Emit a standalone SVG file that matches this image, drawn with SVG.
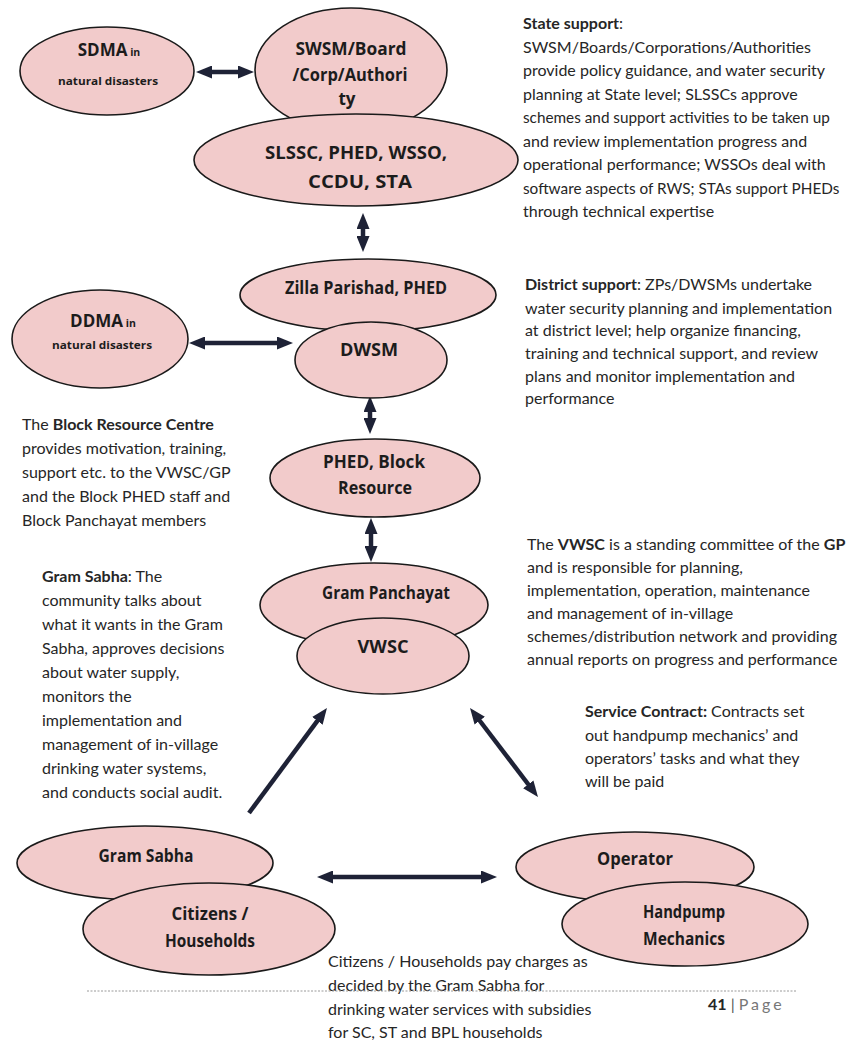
<svg xmlns="http://www.w3.org/2000/svg" width="849" height="1042" viewBox="0 0 849 1042">
<style>
.node ellipse{fill:#f2cbcb;stroke:#1a1a1a;stroke-width:1.6}
.lbl{font-family:"Comic Sans MS","Open Sans",sans-serif;font-weight:700;fill:#1c1c1c;text-anchor:middle;font-size:17px}
.sm{font-size:10.5px}
.para{font-family:Lato,"Liberation Sans",sans-serif;font-size:16px;fill:#262626}
.para.tight{font-size:15.3px}
.b{font-weight:700}
.conn{stroke:#1e2236;stroke-width:4.5;fill:none}
</style>
<defs>
<marker id="ah" viewBox="0 0 16 13" refX="4" refY="6.5" markerWidth="16" markerHeight="13" markerUnits="userSpaceOnUse" orient="auto-start-reverse">
<path d="M0,0 L16,6.5 L0,13 z" fill="#1e2236"/>
</marker>
</defs>
<rect width="849" height="1042" fill="#ffffff"/>

<g id="connectors">
<line class="conn" x1="208" y1="72" x2="242" y2="72" marker-start="url(#ah)" marker-end="url(#ah)"/>
<line class="conn" x1="363" y1="225" x2="363" y2="240" marker-start="url(#ah)" marker-end="url(#ah)"/>
<line class="conn" x1="201" y1="343" x2="281" y2="343" marker-start="url(#ah)" marker-end="url(#ah)"/>
<line class="conn" x1="370" y1="408" x2="370" y2="422" marker-start="url(#ah)" marker-end="url(#ah)"/>
<line class="conn" x1="371" y1="530" x2="371" y2="550" marker-start="url(#ah)" marker-end="url(#ah)"/>
<line class="conn" x1="249" y1="813" x2="319.8" y2="717.6" marker-end="url(#ah)"/>
<line class="conn" x1="477.3" y1="717.5" x2="530.7" y2="787.5" marker-start="url(#ah)" marker-end="url(#ah)"/>
<line class="conn" x1="329" y1="877" x2="485" y2="877" marker-start="url(#ah)" marker-end="url(#ah)"/>
</g>

<g id="sdma" class="node">
<ellipse cx="107" cy="71" rx="87" ry="44"/>
<text class="lbl" x="109" y="56">SDMA<tspan class="sm"> in</tspan></text>
<text class="lbl sm" x="108" y="85" textLength="100" lengthAdjust="spacingAndGlyphs">natural disasters</text>
</g>

<g id="swsm" class="node">
<ellipse cx="351" cy="70" rx="96" ry="62"/>
<text class="lbl" x="351" y="55" textLength="111" lengthAdjust="spacingAndGlyphs">SWSM/Board</text>
<text class="lbl" x="350" y="81" textLength="115" lengthAdjust="spacingAndGlyphs">/Corp/Authori</text>
<text class="lbl" x="347" y="105">ty</text>
</g>

<g id="slssc" class="node">
<ellipse cx="356" cy="160" rx="162" ry="46"/>
<text class="lbl" x="356" y="159" textLength="182" lengthAdjust="spacingAndGlyphs">SLSSC, PHED, WSSO,</text>
<text class="lbl" x="360" y="188" textLength="104" lengthAdjust="spacingAndGlyphs">CCDU, STA</text>
</g>

<g id="zilla" class="node">
<ellipse cx="368" cy="295" rx="128" ry="36"/>
<text class="lbl" x="366" y="294" textLength="162" lengthAdjust="spacingAndGlyphs">Zilla Parishad, PHED</text>
</g>

<g id="ddma" class="node">
<ellipse cx="100" cy="339" rx="88" ry="49"/>
<text class="lbl" x="103" y="327">DDMA<tspan class="sm"> in</tspan></text>
<text class="lbl sm" x="102" y="349" textLength="100" lengthAdjust="spacingAndGlyphs">natural disasters</text>
</g>

<g id="dwsm" class="node">
<ellipse cx="371" cy="360" rx="76" ry="38"/>
<text class="lbl" x="369" y="356" textLength="58" lengthAdjust="spacingAndGlyphs">DWSM</text>
</g>

<g id="phed-block" class="node">
<ellipse cx="375" cy="478" rx="105" ry="39"/>
<text class="lbl" x="374" y="468" textLength="102" lengthAdjust="spacingAndGlyphs">PHED, Block</text>
<text class="lbl" x="375" y="494" textLength="74" lengthAdjust="spacingAndGlyphs">Resource</text>
</g>

<g id="gram-panchayat" class="node">
<ellipse cx="374" cy="605" rx="114" ry="42"/>
<text class="lbl" x="386" y="599" textLength="128" lengthAdjust="spacingAndGlyphs">Gram Panchayat</text>
</g>

<g id="vwsc" class="node">
<ellipse cx="383" cy="656" rx="86" ry="38"/>
<text class="lbl" x="383" y="653" textLength="51" lengthAdjust="spacingAndGlyphs">VWSC</text>
</g>

<g id="gram-sabha" class="node">
<ellipse cx="145" cy="863" rx="128" ry="37"/>
<text class="lbl" x="146" y="862" textLength="95" lengthAdjust="spacingAndGlyphs">Gram Sabha</text>
</g>

<g id="citizens" class="node">
<ellipse cx="209" cy="929" rx="126" ry="46"/>
<text class="lbl" x="210" y="920" textLength="77" lengthAdjust="spacingAndGlyphs">Citizens /</text>
<text class="lbl" x="210" y="947" textLength="90" lengthAdjust="spacingAndGlyphs">Households</text>
</g>

<g id="operator" class="node">
<ellipse cx="635" cy="867" rx="119" ry="35"/>
<text class="lbl" x="635" y="865" textLength="76" lengthAdjust="spacingAndGlyphs">Operator</text>
</g>

<g id="handpump" class="node">
<ellipse cx="685" cy="924" rx="123" ry="42"/>
<text class="lbl" x="684" y="918" textLength="82" lengthAdjust="spacingAndGlyphs">Handpump</text>
<text class="lbl" x="684" y="945" textLength="82" lengthAdjust="spacingAndGlyphs">Mechanics</text>
</g>

<g id="state-support-note">
<text class="para" x="523" y="29"><tspan class="b">State support</tspan>:</text>
<text class="para" x="523" y="52.5">SWSM/Boards/Corporations/Authorities</text>
<text class="para" x="523" y="76">provide policy guidance, and water security</text>
<text class="para" x="523" y="99.5">planning at State level; SLSSCs approve</text>
<text class="para tight" x="523" y="123">schemes and support activities to be taken up</text>
<text class="para" x="523" y="146.5">and review implementation progress and</text>
<text class="para" x="523" y="170">operational performance; WSSOs deal with</text>
<text class="para tight" x="523" y="193.5">software aspects of RWS; STAs support PHEDs</text>
<text class="para" x="523" y="217">through technical expertise</text>
</g>

<g id="district-support-note">
<text class="para" x="525" y="290"><tspan class="b">District support</tspan>: ZPs/DWSMs undertake</text>
<text class="para" x="525" y="314">water security planning and implementation</text>
<text class="para" x="525" y="336">at district level; help organize financing,</text>
<text class="para" x="525" y="359">training and technical support, and review</text>
<text class="para" x="525" y="382">plans and monitor implementation and</text>
<text class="para" x="525" y="404">performance</text>
</g>

<g id="block-note">
<text class="para" x="22" y="430">The <tspan class="b">Block Resource Centre</tspan></text>
<text class="para" x="22" y="454">provides motivation, training,</text>
<text class="para" x="22" y="478">support etc. to the VWSC/GP</text>
<text class="para" x="22" y="502">and the Block PHED staff and</text>
<text class="para" x="22" y="526">Block Panchayat members</text>
</g>

<g id="gram-sabha-note">
<text class="para" x="42" y="582"><tspan class="b">Gram Sabha</tspan>: The</text>
<text class="para" x="42" y="606">community talks about</text>
<text class="para" x="42" y="630">what it wants in the Gram</text>
<text class="para" x="42" y="654">Sabha, approves decisions</text>
<text class="para" x="42" y="678">about water supply,</text>
<text class="para" x="42" y="702">monitors the</text>
<text class="para" x="42" y="726">implementation and</text>
<text class="para" x="42" y="750">management of in-village</text>
<text class="para" x="42" y="774">drinking water systems,</text>
<text class="para" x="42" y="798">and conducts social audit.</text>
</g>

<g id="vwsc-note">
<text class="para" x="527" y="550">The <tspan class="b">VWSC</tspan> is a standing committee of the <tspan class="b">GP</tspan></text>
<text class="para" x="527" y="573">and is responsible for planning,</text>
<text class="para" x="527" y="596">implementation, operation, maintenance</text>
<text class="para" x="527" y="619">and management of in-village</text>
<text class="para" x="527" y="642">schemes/distribution network and providing</text>
<text class="para" x="527" y="665">annual reports on progress and performance</text>
</g>

<g id="service-contract-note">
<text class="para" x="585" y="717"><tspan class="b">Service Contract:</tspan> Contracts set</text>
<text class="para" x="585" y="741">out handpump mechanics’ and</text>
<text class="para" x="585" y="764">operators’ tasks and what they</text>
<text class="para" x="585" y="787">will be paid</text>
</g>

<g id="charges-note">
<text class="para" x="328" y="967">Citizens / Households pay charges as</text>
<text class="para" x="328" y="991">decided by the Gram Sabha for</text>
<text class="para" x="328" y="1015">drinking water services with subsidies</text>
<text class="para" x="328" y="1038">for SC, ST and BPL households</text>
</g>

<g id="footer">
<line x1="87" y1="991" x2="797" y2="991" stroke="#9a9a9a" stroke-width="1" stroke-dasharray="2,1.5"/>
<text class="para" x="708" y="1010"><tspan class="b">41</tspan><tspan fill="#555"> | </tspan><tspan fill="#777" letter-spacing="3">Page</tspan></text>
</g>
</svg>
